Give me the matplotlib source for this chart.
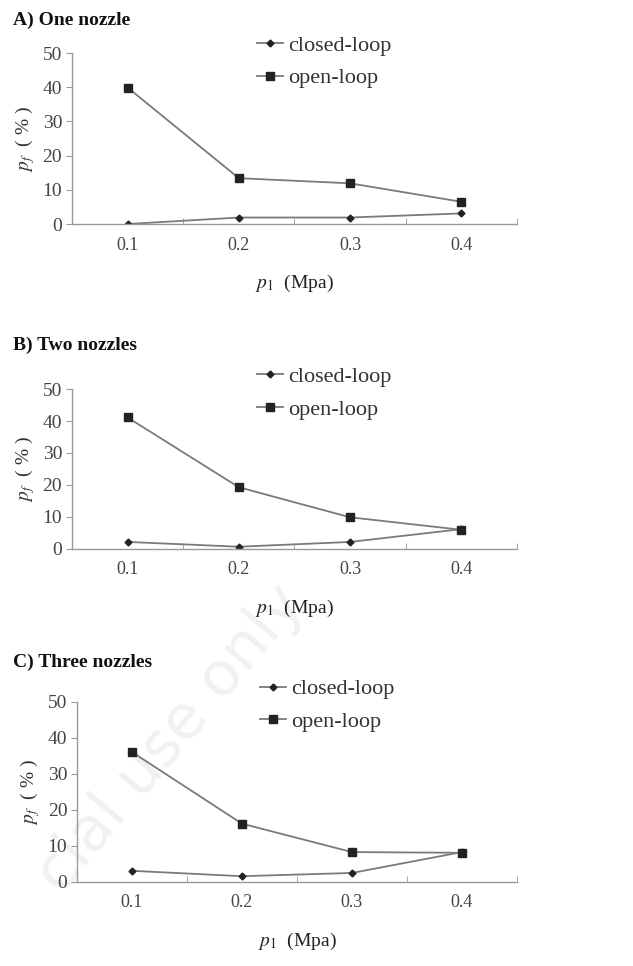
import matplotlib.pyplot as plt
import numpy as np

plt.rcParams['font.family'] = ['Liberation Serif', 'DejaVu Serif']
plt.rcParams['mathtext.fontset'] = 'stix'

pressure = ['0.1', '0.2', '0.3', '0.4']
titles = ['A) One nozzle', 'B) Two nozzles', 'C) Three nozzles']

closed_a = [0.0, 1.9, 1.9, 3.1]
open_a = [39.9, 13.4, 11.9, 6.5]
closed_b = [2.2, 0.7, 2.2, 6.2]
open_b = [41.1, 19.3, 9.9, 6.0]
closed_c = [3.1, 1.6, 2.5, 8.3]
open_c = [36.1, 16.2, 8.3, 8.1]

closed = [closed_a, closed_b, closed_c]
opened = [open_a, open_b, open_c]

fig = plt.figure(figsize=(6.33, 9.66), dpi=100)

# axes boxes in figure fractions (left, bottom, width, height)
boxes = [(0.1137, 0.7681, 0.703, 0.177),
         (0.1137, 0.4317, 0.703, 0.1656),
         (0.1216, 0.0870, 0.695, 0.1863)]
title_y = [0.979, 0.643, 0.314]
leg_y = [1.17, 1.21, 1.19]

# faint watermark, drawn under the axes
fig.text(0.27, 0.235, 'cial use only', fontsize=44, color='#f1f1f1',
         rotation=50, ha='center', va='center', family='DejaVu Sans', zorder=-1)

x = np.arange(1, len(pressure) + 1)
for i in range(3):
    ax = fig.add_axes(boxes[i])
    ax.patch.set_alpha(0)
    ax.plot(x, closed[i], color='#7a7a7a', lw=1.3, marker='D', ms=3.5,
            mfc='#222222', mec='#222222', label='closed-loop')
    ax.plot(x, opened[i], color='#7a7a7a', lw=1.3, marker='s', ms=6,
            mfc='#222222', mec='#222222', label='open-loop')
    ax.set_xlim(0.5, 4.5)
    ax.set_ylim(0, 50)
    ax.set_yticks([0, 10, 20, 30, 40, 50])
    ax.set_xticks(x)
    ax.set_xticklabels(pressure)
    ax.set_xticks([1.5, 2.5, 3.5, 4.5], minor=True)
    ax.tick_params(axis='x', which='major', length=0, pad=9,
                   labelsize=13, labelcolor='#444444')
    ax.tick_params(axis='x', which='minor', direction='in', length=4,
                   color='#999999')
    ax.tick_params(axis='y', length=4, color='#999999', labelsize=14,
                   labelcolor='#444444', pad=3)
    for s in ['top', 'right']:
        ax.spines[s].set_visible(False)
    for s in ['left', 'bottom']:
        ax.spines[s].set_color('#999999')
        ax.spines[s].set_linewidth(1.0)
    ax.set_ylabel(r'$p_f$  ( % )', fontsize=14, color='#333333', labelpad=4)
    ax.set_xlabel(r'$p_1$  (Mpa)', fontsize=14, color='#222222', labelpad=14)
    ax.legend(loc='upper left', bbox_to_anchor=(0.39, leg_y[i]), frameon=False,
              fontsize=16, handlelength=1.2, handletextpad=0.2,
              labelspacing=0.55, borderpad=0, labelcolor='#333333')
    fig.text(0.02, title_y[i], titles[i], fontsize=14, fontweight='bold',
             color='#111111', va='center')

plt.savefig('out.png', dpi=100)
